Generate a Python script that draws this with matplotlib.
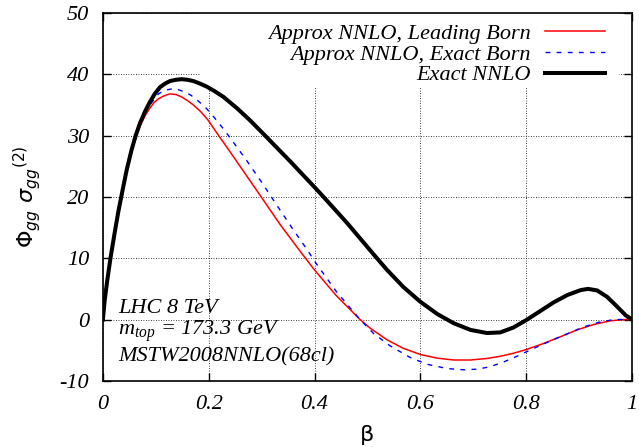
import matplotlib
matplotlib.use("Agg")
import matplotlib.pyplot as plt
from matplotlib.patches import Rectangle

# curves (beta, Phi_gg * sigma_gg^(2))
beta_lb = [0, 0.0034, 0.0083, 0.0147, 0.022, 0.029, 0.037, 0.045, 0.054, 0.062,
           0.070, 0.080, 0.089, 0.097, 0.105, 0.116, 0.127, 0.138, 0.149, 0.160,
           0.171, 0.185, 0.199, 0.218, 0.240, 0.256, 0.272, 0.300, 0.335, 0.367,
           0.398, 0.440, 0.486, 0.505, 0.537, 0.568, 0.600, 0.632, 0.663, 0.695,
           0.726, 0.751, 0.776, 0.800, 0.833, 0.865, 0.896, 0.928, 0.960, 0.988, 1.0]
sig_lb = [0, 3.1, 6.4, 10.2, 14.0, 17.5, 21.0, 24.2, 27.3, 29.6,
          31.5, 33.3, 34.5, 35.4, 36.0, 36.5, 36.8, 36.7, 36.3, 35.7,
          35.0, 33.9, 32.5, 30.1, 27.4, 25.4, 23.4, 19.9, 15.5, 11.8,
          8.3, 4.0, 0, -1.4, -3.3, -4.7, -5.7, -6.3, -6.6, -6.6,
          -6.35, -6.0, -5.5, -4.9, -3.9, -2.8, -1.7, -0.8, -0.2, 0, 0]

beta_eb = [0, 0.0034, 0.0083, 0.0147, 0.022, 0.029, 0.037, 0.045, 0.054, 0.062,
           0.070, 0.080, 0.089, 0.097, 0.105, 0.117, 0.130, 0.142, 0.155, 0.166,
           0.177, 0.196, 0.210, 0.225, 0.240, 0.256, 0.272, 0.300, 0.326, 0.357,
           0.386, 0.401, 0.440, 0.486, 0.512, 0.543, 0.581, 0.613, 0.651, 0.682,
           0.707, 0.732, 0.758, 0.780, 0.802, 0.830, 0.859, 0.884, 0.909, 0.937,
           0.966, 0.990, 1.0]
sig_eb = [0, 3.1, 6.4, 10.2, 14.0, 17.5, 21.0, 24.3, 27.5, 29.9,
          31.8, 33.7, 35.0, 35.9, 36.8, 37.4, 37.6, 37.5, 37.1, 36.6,
          35.9, 34.4, 33.0, 31.4, 29.7, 27.8, 25.9, 22.4, 19.0, 15.0,
          11.4, 9.4, 4.7, 0, -2.3, -4.3, -6.2, -7.3, -8.0, -8.2,
          -8.1, -7.7, -6.9, -6.1, -5.2, -4.1, -3.0, -2.1, -1.2, -0.45,
          0, 0, 0]

beta_ex = [0, 0.0034, 0.0083, 0.0147, 0.022, 0.029, 0.037, 0.045, 0.054, 0.062,
           0.070, 0.080, 0.089, 0.098, 0.108, 0.118, 0.127, 0.138, 0.149, 0.160,
           0.171, 0.183, 0.196, 0.212, 0.228, 0.253, 0.278, 0.310, 0.354, 0.401,
           0.417, 0.461, 0.512, 0.537, 0.568, 0.600, 0.632, 0.663, 0.695, 0.726,
           0.751, 0.776, 0.800, 0.827, 0.852, 0.878, 0.903, 0.917, 0.934, 0.953,
           0.972, 0.988, 1.0]
sig_ex = [0, 3.1, 6.4, 10.2, 14.0, 17.5, 21.0, 24.4, 27.6, 30.0,
          32.0, 34.0, 35.5, 36.8, 37.9, 38.5, 38.9, 39.1, 39.2, 39.1,
          38.9, 38.5, 38.0, 37.2, 36.3, 34.5, 32.5, 29.7, 25.8, 21.5,
          20.0, 15.8, 10.6, 8.1, 5.3, 2.9, 0.9, -0.6, -1.7, -2.2,
          -2.1, -1.3, -0.1, 1.4, 2.8, 4.0, 4.8, 5.0, 4.75, 3.7,
          2.1, 0.7, 0]

xticks = [0, 0.2, 0.4, 0.6, 0.8, 1]
xticklabels = ["0", "0.2", "0.4", "0.6", "0.8", "1"]
yticks = [-10, 0, 10, 20, 30, 40, 50]

plt.rcParams["font.family"] = "Liberation Serif"
plt.rcParams["mathtext.fontset"] = "custom"
plt.rcParams["mathtext.it"] = "Liberation Serif:italic"
plt.rcParams["mathtext.rm"] = "Liberation Serif:italic"

fig = plt.figure(figsize=(6.39, 4.47), dpi=100)
ax = fig.add_axes([0.161, 0.148, 0.828, 0.823])
ax.set_axisbelow(True)

ax.plot(beta_lb, sig_lb, color="red", lw=1.1, label="Approx NNLO, Leading Born", zorder=3)
ax.plot(beta_eb, sig_eb, color="blue", lw=1.0, ls=(0, (3.5, 4.5)), label="Approx NNLO, Exact Born", zorder=3)
ax.plot(beta_ex, sig_ex, color="black", lw=2.9, label="Exact NNLO", zorder=4)

ax.set_xlim(0, 1)
ax.set_ylim(-10, 50)
ax.set_xticks(xticks)
ax.set_xticklabels(xticklabels, fontstyle="italic", fontsize=16)
ax.set_yticks(yticks)
ax.set_yticklabels([str(v) for v in yticks], fontstyle="italic", fontsize=16)
ax.tick_params(direction="in", top=True, right=True, length=6, width=1, pad=10)
ax.grid(True, color="black", ls=(0, (1, 2)), lw=0.6)
for s in ax.spines.values():
    s.set_linewidth(1.2)
    s.set_zorder(6)

# blank area behind the key, like gnuplot's key box
ax.add_patch(Rectangle((0.184, 0.796), 0.791, 0.204, transform=ax.transAxes,
                       facecolor="white", edgecolor="none", zorder=1))

ax.set_xlabel("β", fontsize=16, family="DejaVu Sans", labelpad=8)
ax.set_ylabel(r"$\Phi_{gg}\ \sigma_{gg}{}^{(2)}$", fontsize=16, math_fontfamily="dejavusans", labelpad=12)

leg = ax.legend(loc="upper right", bbox_to_anchor=(0.966, 0.995), markerfirst=False,
                frameon=False, prop={"style": "italic", "size": 16}, handlelength=2.7,
                labelspacing=0.0, borderaxespad=0.0, handletextpad=0.65)
leg.set_zorder(5)

ax.text(0.029, 0.198, "LHC 8 TeV", transform=ax.transAxes, fontsize=16, fontstyle="italic", va="center")
ax.text(0.029, 0.136, r"$m_{top}$ = 173.3 GeV", transform=ax.transAxes, fontsize=16, fontstyle="italic", va="center")
ax.text(0.029, 0.065, "MSTW2008NNLO(68cl)", transform=ax.transAxes, fontsize=16, fontstyle="italic", va="center")

fig.savefig("out.png", dpi=100)
